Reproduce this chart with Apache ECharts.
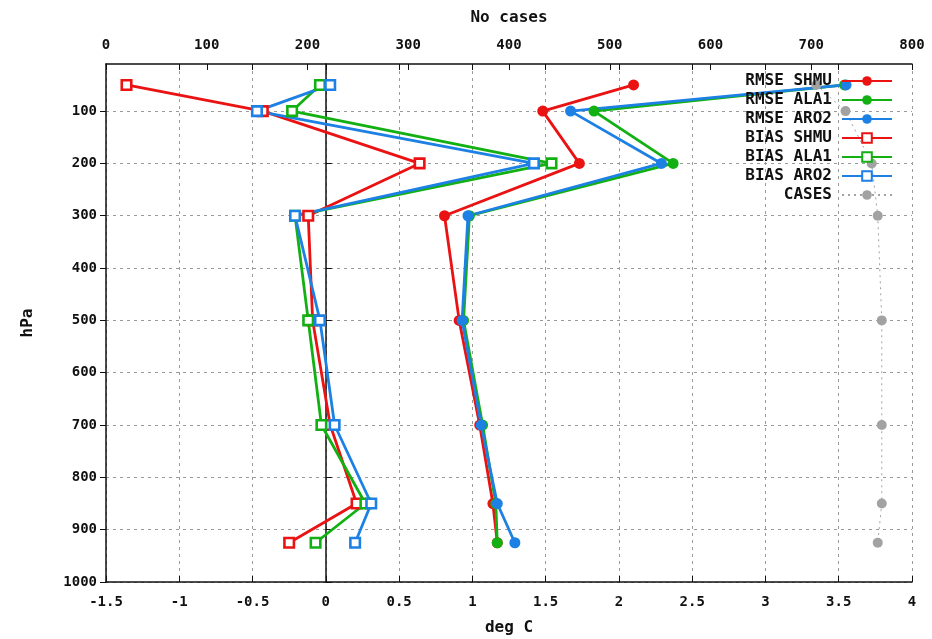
<!DOCTYPE html>
<html>
<head>
<meta charset="utf-8">
<title>RMSE / BIAS temperature profile</title>
<script src="https://cdn.jsdelivr.net/npm/echarts@6/dist/echarts.min.js"></script>
<style>
  html, body { margin: 0; padding: 0; background: #ffffff; }
  #chart { width: 932px; height: 639px; }
</style>
</head>
<body>
<div id="chart"></div>
<script>
// Pressure levels (hPa) of the vertical profile
const levels = [50, 100, 200, 300, 500, 700, 850, 925];

// RMSE of temperature (deg C) per model
const rmseSHMU = [2.10, 1.48, 1.73, 0.81, 0.91, 1.05, 1.14, 1.17];
const rmseALA1 = [3.54, 1.83, 2.37, 0.98, 0.94, 1.07, 1.16, 1.17];
const rmseARO2 = [3.55, 1.67, 2.29, 0.97, 0.93, 1.06, 1.17, 1.29];

// BIAS of temperature (deg C) per model
const biasSHMU = [-1.36, -0.43, 0.64, -0.12, -0.09, 0.03, 0.21, -0.25];
const biasALA1 = [-0.04, -0.23, 1.54, -0.21, -0.12, -0.03, 0.27, -0.07];
const biasARO2 = [0.03, -0.47, 1.42, -0.21, -0.04, 0.06, 0.31, 0.20];

// Number of cases per level (top axis)
const cases = [705, 734, 760, 766, 770, 770, 770, 766];

// Tick values
const pressureTicks = [100, 200, 300, 400, 500, 600, 700, 800, 900, 1000];

const RED = '#ea1212';
const GREEN = '#12b012';
const BLUE = '#1c80e4';
const GRAY = '#a2a2a2';
const INK = '#111111';
const FONT = '"DejaVu Sans Mono", "Liberation Mono", monospace';

function pairs(xs) {
  return xs.map((v, i) => [v, levels[i]]);
}

function rmseSeries(name, values, color) {
  return {
    name: name,
    type: 'line',
    xAxisIndex: 0,
    yAxisIndex: 0,
    data: pairs(values),
    symbol: 'circle',
    symbolSize: 11,
    itemStyle: { color: color },
    lineStyle: { color: color, width: 2.8 },
    emphasis: { disabled: true }
  };
}

function biasSeries(name, values, color) {
  return {
    name: name,
    type: 'line',
    xAxisIndex: 0,
    yAxisIndex: 0,
    data: pairs(values),
    symbol: 'rect',
    symbolSize: 9.5,
    itemStyle: { color: '#ffffff', borderColor: color, borderWidth: 2.6 },
    lineStyle: { color: color, width: 2.8 },
    emphasis: { disabled: true }
  };
}

const plainNumber = function (v) { return String(v); };
const tickLabel = { fontFamily: FONT, fontWeight: 'bold', fontSize: 14, color: INK, formatter: plainNumber };
const axisLine = { show: true, lineStyle: { color: INK, width: 1.5 } };
const innerTick = { show: true, inside: true, length: 6, lineStyle: { color: INK, width: 1 } };
const gridDash = { show: true, lineStyle: { color: '#9a9a9a', width: 1, type: [3, 4] } };

const chart = echarts.init(document.getElementById('chart'), null, { renderer: 'canvas' });

chart.setOption({
  animation: false,
  backgroundColor: '#ffffff',
  grid: { left: 106, right: 20, top: 64, bottom: 57, containLabel: false, outerBoundsMode: 'none' },
  legend: {
    orient: 'vertical',
    align: 'right',
    right: 39,
    top: 73,
    padding: 0,
    itemWidth: 50,
    itemHeight: 12,
    itemGap: 3,
    selectedMode: false,
    textStyle: { fontFamily: FONT, fontWeight: 'bold', fontSize: 16, lineHeight: 16, color: INK, padding: [0, 5, 0, 0] },
    data: ['RMSE SHMU', 'RMSE ALA1', 'RMSE ARO2', 'BIAS SHMU', 'BIAS ALA1', 'BIAS ARO2', 'CASES']
  },
  xAxis: [
    {
      type: 'value',
      position: 'bottom',
      min: -1.5,
      max: 4,
      interval: 0.5,
      name: 'deg C',
      nameLocation: 'middle',
      nameGap: 38,
      nameTextStyle: { fontFamily: FONT, fontWeight: 'bold', fontSize: 16, color: INK },
      axisLine: axisLine,
      axisTick: innerTick,
      axisLabel: Object.assign({ margin: 13, showMinLabel: true, showMaxLabel: true }, tickLabel),
      splitLine: gridDash
    },
    {
      type: 'value',
      position: 'top',
      min: 0,
      max: 800,
      interval: 100,
      name: 'No cases',
      nameLocation: 'middle',
      nameGap: 38,
      nameTextStyle: { fontFamily: FONT, fontWeight: 'bold', fontSize: 16, color: INK },
      axisLine: axisLine,
      axisTick: innerTick,
      axisLabel: Object.assign({ margin: 12, showMinLabel: true, showMaxLabel: true }, tickLabel),
      splitLine: { show: false }
    },
    {
      // mirrored deg C ticks along the top border
      type: 'value',
      position: 'top',
      min: -1.5,
      max: 4,
      interval: 0.5,
      axisLine: { show: false },
      axisTick: innerTick,
      axisLabel: { show: false },
      splitLine: { show: false }
    }
  ],
  yAxis: [
    {
      type: 'value',
      position: 'left',
      inverse: true,
      min: 10,
      max: 1000,
      name: 'hPa',
      nameLocation: 'middle',
      nameRotate: 90,
      nameGap: 70,
      nameTextStyle: { fontFamily: FONT, fontWeight: 'bold', fontSize: 16, color: INK },
      axisLine: axisLine,
      axisTick: Object.assign({ customValues: pressureTicks }, innerTick),
      axisLabel: Object.assign({ margin: 9, customValues: pressureTicks }, tickLabel),
      splitLine: gridDash
    },
    {
      // mirrored pressure ticks along the right border
      type: 'value',
      position: 'right',
      inverse: true,
      min: 10,
      max: 1000,
      axisLine: axisLine,
      axisTick: Object.assign({ customValues: pressureTicks }, innerTick),
      axisLabel: { show: false, customValues: pressureTicks },
      splitLine: { show: false }
    }
  ],
  series: [
    rmseSeries('RMSE SHMU', rmseSHMU, RED),
    rmseSeries('RMSE ALA1', rmseALA1, GREEN),
    rmseSeries('RMSE ARO2', rmseARO2, BLUE),
    biasSeries('BIAS SHMU', biasSHMU, RED),
    biasSeries('BIAS ALA1', biasALA1, GREEN),
    biasSeries('BIAS ARO2', biasARO2, BLUE),
    {
      name: 'CASES',
      type: 'line',
      xAxisIndex: 1,
      yAxisIndex: 0,
      data: pairs(cases),
      symbol: 'circle',
      symbolSize: 10,
      itemStyle: { color: GRAY },
      lineStyle: { color: GRAY, width: 1, type: [2, 4] },
      emphasis: { disabled: true }
    }
  ]
});
</script>
</body>
</html>
